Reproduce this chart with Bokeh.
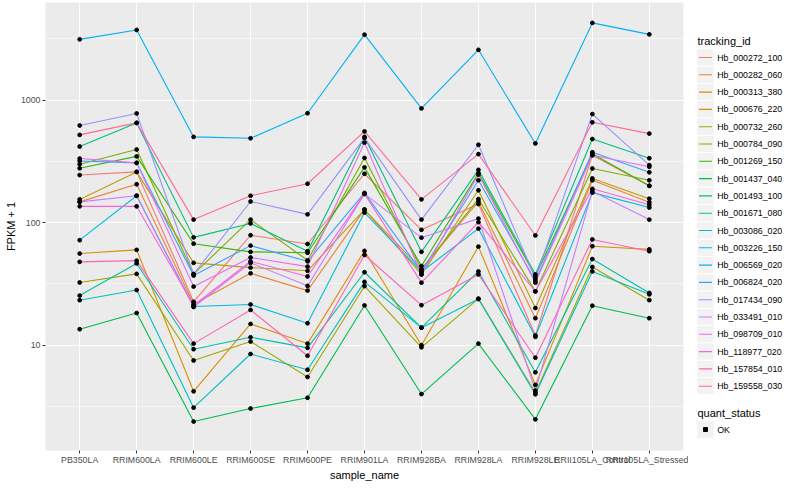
from bokeh.plotting import figure
from bokeh.models import FactorRange, Range1d, FixedTicker, ColumnDataSource, BasicTickFormatter
from bokeh.layouts import row
from bokeh.embed import file_html
from bokeh.resources import INLINE
from bokeh.core.properties import value

samples = ["PB350LA", "RRIM600LA", "RRIM600LE", "RRIM600SE", "RRIM600PE", "RRIM901LA",
           "RRIM928BA", "RRIM928LA", "RRIM928LE", "RRII105LA_Control", "RRII105LA_Stressed"]

tracking_ids = ["Hb_000272_100", "Hb_000282_060", "Hb_000313_380", "Hb_000676_220", "Hb_000732_260",
                "Hb_000784_090", "Hb_001269_150", "Hb_001437_040", "Hb_001493_100", "Hb_001671_080",
                "Hb_003086_020", "Hb_003226_150", "Hb_006569_020", "Hb_006824_020", "Hb_017434_090",
                "Hb_033491_010", "Hb_098709_010", "Hb_118977_020", "Hb_157854_010", "Hb_159558_030"]

colors = ["#F8766D", "#EA8331", "#D89000", "#C09B00", "#A3A500", "#7CAE00", "#39B600", "#00BB4E",
          "#00BF7D", "#00C1A3", "#00BFC4", "#00BAE0", "#00B0F6", "#35A2FF", "#9590FF", "#C77CFF",
          "#E76BF3", "#FA62DB", "#FF62BC", "#FF6A98"]

# FPKM + 1 values, one list per tracking_id, in the order of `samples`
hb_000272_100 = [245, 260, 22.6, 79, 67, 251, 87.5, 142, 12, 356, 200]
hb_000282_060 = [148, 206, 21.6, 38.6, 27.9, 128, 41.7, 149, 16.6, 222, 147]
hb_000313_380 = [56, 60, 4.2, 14.9, 10.3, 58.9, 10, 63.8, 4.74, 64.3, 60.6]
hb_000676_220 = [155, 260, 47, 43, 40.5, 128, 37.8, 184, 20.1, 230, 157]
hb_000732_260 = [32.5, 38.2, 7.5, 10.7, 5.5, 30.3, 9.6, 24, 4.09, 43.5, 23.3]
hb_000784_090 = [300, 396, 38.1, 106, 49.3, 338, 41.7, 156, 27.5, 277, 222]
hb_001269_150 = [278, 348, 67.4, 57.8, 56.8, 283, 44.3, 254, 36.5, 365, 200]
hb_001437_040 = [13.5, 18.3, 2.38, 3.04, 3.72, 21.1, 3.99, 10.3, 2.48, 21, 16.6]
hb_001493_100 = [419, 653, 75.9, 98.6, 58.5, 502, 57.8, 270, 37.8, 482, 336]
hb_001671_080 = [25.4, 46.5, 9.27, 11.6, 9.5, 39.4, 13.9, 40, 6.0, 50.5, 26.7]
hb_003086_020 = [23.3, 28.2, 3.09, 8.47, 6.3, 32.9, 13.9, 23.8, 3.97, 40, 26]
hb_003226_150 = [72, 166, 20.7, 21.5, 15.1, 121, 39.8, 89.5, 11.7, 176, 133]
hb_006569_020 = [3140, 3750, 502, 489, 783, 3430, 857, 2580, 444, 4280, 3450]
hb_006824_020 = [319, 308, 37, 65, 48.4, 175, 39.8, 222, 33.5, 376, 258]
hb_017434_090 = [622, 780, 38, 149, 117, 493, 106, 433, 34.9, 771, 295]
hb_033491_010 = [148, 166, 20.5, 47, 30.5, 172, 75.5, 108, 4.26, 181, 106]
hb_098709_010 = [334, 308, 30.1, 52, 43.8, 451, 37.8, 247, 32.4, 356, 286]
hb_118977_020 = [136, 136, 21.1, 48.4, 36.4, 172, 32.4, 101, 27.5, 189, 140]
hb_157854_010 = [47.9, 49, 10.3, 19.4, 8.2, 54.5, 21.2, 37.8, 7.9, 73, 58.5]
hb_159558_030 = [521, 653, 106, 166, 208, 556, 155, 363, 78.7, 660, 534]

series = [hb_000272_100, hb_000282_060, hb_000313_380, hb_000676_220, hb_000732_260,
          hb_000784_090, hb_001269_150, hb_001437_040, hb_001493_100, hb_001671_080,
          hb_003086_020, hb_003226_150, hb_006569_020, hb_006824_020, hb_017434_090,
          hb_033491_010, hb_098709_010, hb_118977_020, hb_157854_010, hb_159558_030]

y_ticks = [10, 100, 1000]
quant_status = ["OK"]

FONT = "Liberation Sans"
TOTAL_H = 484
TOP, BOTTOM = 2, 34          # borders shared by both figures so their frames line up

p = figure(x_range=FactorRange(*samples, range_padding=0.1, range_padding_units="absolute"),
           y_axis_type="log", y_range=Range1d(10 ** 0.14, 10 ** 3.798),
           width=688, height=TOTAL_H, output_backend="svg", toolbar_location=None,
           min_border_left=45, min_border_right=5, min_border_top=TOP, min_border_bottom=BOTTOM)
p.background_fill_color = "#EBEBEB"
p.border_fill_color = "white"
p.outline_line_color = None

ticker = FixedTicker(ticks=y_ticks, minor_ticks=[10 ** (k + 0.5) for k in range(0, 4)])
p.yaxis.ticker = ticker
p.ygrid.ticker = ticker
p.yaxis.formatter = BasicTickFormatter()
p.yaxis.major_label_overrides = {t: str(t) for t in y_ticks}

for g in (p.xgrid, p.ygrid):
    g.grid_line_color = "white"
    g.grid_line_width = 1.1
p.ygrid.minor_grid_line_color = "white"
p.ygrid.minor_grid_line_width = 0.55

for ax in (p.xaxis, p.yaxis):
    ax.axis_line_color = None
    ax.major_tick_line_color = "#333333"
    ax.major_tick_out = 3
    ax.major_tick_in = 0
    ax.minor_tick_line_color = None
    ax.major_label_text_color = "#4D4D4D"
    ax.major_label_text_font = FONT
    ax.major_label_text_font_size = "8.8px"
    ax.major_label_standoff = 1
    ax.axis_label_text_font = FONT
    ax.axis_label_text_font_size = "11px"
    ax.axis_label_text_font_style = "normal"
    ax.axis_label_text_color = "black"
    ax.axis_label_standoff = 1
p.xaxis.axis_label = "sample_name"
p.yaxis.axis_label = "FPKM + 1"

sources = []
for vals, col in zip(series, colors):
    src = ColumnDataSource(dict(x=samples, y=vals))
    sources.append(src)
    p.line("x", "y", source=src, line_color=col, line_width=1.1)
for src in sources:
    p.scatter("x", "y", source=src, size=3.8, color="black", marker="circle")

# ---- legend panel (ggplot style), y in page pixels ----
LW = 784 - 688
leg = figure(width=LW, height=TOTAL_H, x_range=Range1d(0, LW),
             y_range=Range1d(TOTAL_H - BOTTOM, TOP),
             output_backend="svg", toolbar_location=None, x_axis_type=None, y_axis_type=None,
             min_border_left=0, min_border_right=0, min_border_top=TOP, min_border_bottom=BOTTOM)
leg.outline_line_color = None
leg.background_fill_color = "white"
leg.border_fill_color = "white"
leg.grid.visible = False

kx, kstep, ktop = 17, 17.3, 57
key_y = [ktop + kstep * i for i in range(len(tracking_ids))]
leg.text(x=[9], y=[ktop - 16.3], text=["tracking_id"], text_font=value(FONT),
         text_font_size="11px", text_baseline="middle", text_align="left", text_color="black")
leg.rect(x=[kx] * len(key_y), y=key_y, width=kstep, height=kstep, fill_color="#F2F2F2",
         line_color="white", line_width=1)
leg.segment(x0=[kx - 6.5] * len(key_y), y0=key_y, x1=[kx + 6.5] * len(key_y), y1=key_y,
            line_color=colors, line_width=1.1)
leg.text(x=[kx + 11.7] * len(key_y), y=key_y, text=tracking_ids, text_font=value(FONT),
         text_font_size="8.8px", text_baseline="middle", text_align="left", text_color="black")

qy = key_y[-1] + 43.3
leg.text(x=[9], y=[qy - 16.7], text=["quant_status"], text_font=value(FONT),
         text_font_size="11px", text_baseline="middle", text_align="left", text_color="black")
leg.rect(x=[kx], y=[qy], width=kstep, height=kstep, fill_color="#F2F2F2", line_color="white")
leg.scatter(x=[kx], y=[qy], size=4, color="black", marker="square")
leg.text(x=[kx + 11.7], y=[qy], text=quant_status, text_font=value(FONT),
         text_font_size="8.8px", text_baseline="middle", text_align="left", text_color="black")

layout = row(p, leg)
open("out.html", "w").write(file_html(layout, INLINE))
